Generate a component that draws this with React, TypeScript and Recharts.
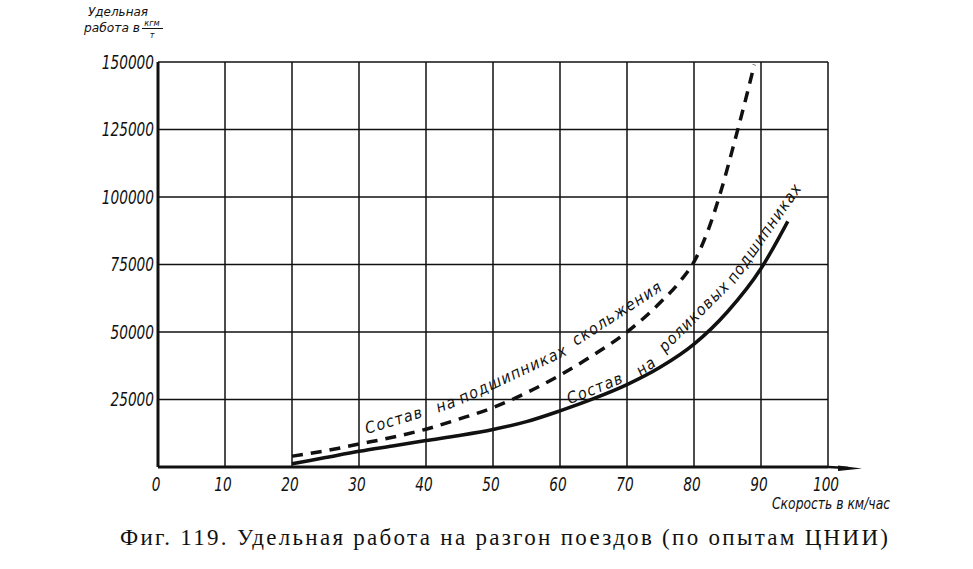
import { CartesianGrid, Line, LineChart, XAxis, YAxis } from "recharts";

// Удельная работа на разгон поездов, кгм/т, по скорости (км/час)
const speedTicks = [0, 10, 20, 30, 40, 50, 60, 70, 80, 90, 100];
const workTicks = [0, 25000, 50000, 75000, 100000, 125000, 150000];

// состав на подшипниках скольжения (штриховая)
const slidingSpeeds = [20, 25, 30, 35, 40, 45, 50, 55, 60, 65, 70, 75, 78, 80, 82, 84, 86, 88, 89];
const slidingWork = [
  4000, 6000, 8500, 11000, 14000, 17800, 22000, 27500, 34000, 41500, 50000, 61000, 69000,
  76000, 87000, 102000, 120000, 139000, 149000,
];

// состав на роликовых подшипниках (сплошная)
const rollerSpeeds = [20, 25, 30, 35, 40, 45, 50, 55, 60, 65, 70, 75, 80, 85, 90, 94];
const rollerWork = [
  1200, 3500, 5800, 7800, 9800, 11700, 13900, 16800, 20800, 25300, 30500, 37000, 45500,
  57500, 73500, 91000,
];

const slidingData = slidingSpeeds.map((speed, i) => ({ speed, work: slidingWork[i] }));
const rollerData = rollerSpeeds.map((speed, i) => ({ speed, work: rollerWork[i] }));

const TICK_FONT = "'DejaVu Sans Condensed', 'DejaVu Sans', sans-serif";
const INK = "#111";

function XTick({ x, y, payload }: any) {
  return (
    <g transform={`translate(${x - 2},${y})`}>
      <text
        transform="scale(0.8,1)"
        textAnchor="middle"
        dy={20}
        fontFamily={TICK_FONT}
        fontStyle="italic"
        fontSize={19}
        fill={INK}
      >
        {payload.value}
      </text>
    </g>
  );
}

function YTick({ x, y, payload }: any) {
  if (payload.value === 0) return null;
  return (
    <g transform={`translate(${x},${y})`}>
      <text
        transform="scale(0.8,1)"
        textAnchor="end"
        dy="0.36em"
        fontFamily={TICK_FONT}
        fontStyle="italic"
        fontSize={19}
        fill={INK}
      >
        {payload.value}
      </text>
    </g>
  );
}

// words of the in-plot labels, each rotated to follow its curve
const slidingLabel = [
  { text: "Состав", x: 394, y: 420, rot: -17 },
  { text: "на", x: 446, y: 404, rot: -20 },
  { text: "подшипниках", x: 513, y: 374, rot: -25 },
  { text: "скольжения", x: 617, y: 313, rot: -33 },
];
const rollerLabel = [
  { text: "Состав", x: 595, y: 388, rot: -22 },
  { text: "на", x: 646, y: 366, rot: -35 },
  { text: "роликовых", x: 694, y: 316, rot: -45 },
  { text: "подшипниках", x: 764, y: 233, rot: -55 },
];

function CurveWords({ words }: { words: typeof slidingLabel }) {
  return (
    <>
      {words.map((w) => (
        <text
          key={w.text + w.x}
          transform={`translate(${w.x},${w.y}) rotate(${w.rot})`}
          textAnchor="middle"
          dy="0.35em"
          fontFamily={TICK_FONT}
          fontStyle="italic"
          fontSize={16}
          letterSpacing={1.2}
          fill={INK}
        >
          {w.text}
        </text>
      ))}
    </>
  );
}

export default function App() {
  return (
    <div style={{ position: "absolute", left: 0, top: 0, width: 973, height: 569, background: "#fff" }}>
      <LineChart
        width={973}
        height={569}
        margin={{ top: 62, right: 145, bottom: 72, left: 98 }}
      >
        <CartesianGrid stroke={INK} strokeWidth={1.5} horizontalValues={workTicks} verticalValues={speedTicks} />
        <XAxis
          type="number"
          dataKey="speed"
          domain={[0, 100]}
          ticks={speedTicks}
          height={30}
          tickLine={false}
          tickSize={0}
          tickMargin={4}
          axisLine={{ stroke: INK, strokeWidth: 3 }}
          tick={<XTick />}
          allowDataOverflow
        />
        <YAxis
          type="number"
          domain={[0, 150000]}
          ticks={workTicks}
          width={60}
          tickLine={false}
          tickSize={0}
          tickMargin={4}
          axisLine={{ stroke: INK, strokeWidth: 3 }}
          tick={<YTick />}
          allowDataOverflow
        />
        <Line
          data={slidingData}
          dataKey="work"
          type="monotone"
          stroke={INK}
          strokeWidth={3.5}
          strokeDasharray="11 8"
          dot={false}
          isAnimationActive={false}
        />
        <Line
          data={rollerData}
          dataKey="work"
          type="monotone"
          stroke={INK}
          strokeWidth={3.5}
          dot={false}
          isAnimationActive={false}
        />
      </LineChart>

      <svg
        width={973}
        height={569}
        style={{ position: "absolute", left: 0, top: 0, pointerEvents: "none" }}
      >
        {/* axis arrow past 100 */}
        <line x1={828} y1={467} x2={848} y2={468} stroke={INK} strokeWidth={2.5} />
        <path d="M838,465.5 L862,468.5 L838,471 Z" fill={INK} />

        <CurveWords words={slidingLabel} />
        <CurveWords words={rollerLabel} />

        {/* y-axis title */}
        <g fontFamily={TICK_FONT} fontStyle="italic" fill={INK}>
          <text x={88} y={16} fontSize={13} textLength={60} lengthAdjust="spacingAndGlyphs">
            Удельная
          </text>
          <text x={84} y={32} fontSize={13} textLength={56} lengthAdjust="spacingAndGlyphs">
            работа в
          </text>
          <text x={152} y={26} fontSize={9} textAnchor="middle">
            кгм
          </text>
          <line x1={142} y1={28.5} x2={163} y2={28.5} stroke={INK} strokeWidth={1} />
          <text x={152} y={38} fontSize={9} textAnchor="middle">
            т
          </text>

          {/* x-axis title */}
          <text x={772} y={509} fontSize={15} textLength={118} lengthAdjust="spacingAndGlyphs">
            Скорость в км/час
          </text>
        </g>

        {/* figure caption */}
        <text
          x={120}
          y={545}
          fontFamily="'Liberation Serif', 'DejaVu Serif', serif"
          fontSize={23}
          fill={INK}
          textLength={768}
          lengthAdjust="spacing"
        >
          Фиг. 119. Удельная работа на разгон  поездов (по опытам ЦНИИ)
        </text>
      </svg>
    </div>
  );
}
